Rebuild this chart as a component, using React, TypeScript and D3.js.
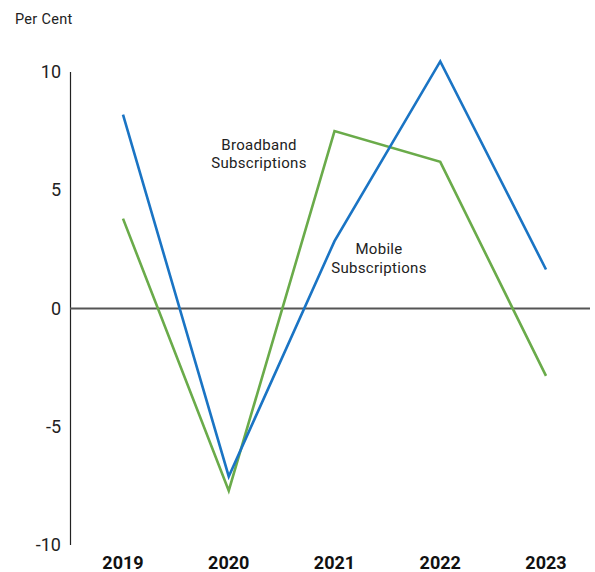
import React from "react";
import * as d3 from "d3";

const years = ["2019", "2020", "2021", "2022", "2023"];
const mobile = [8.2, -7.1, 2.85, 10.45, 1.65];
const broadband = [3.8, -7.7, 7.5, 6.2, -2.85];
const yTicks = [-10, -5, 0, 5, 10];

const W = 595;
const H = 572;

export default function App() {
  const x = d3.scalePoint<string>().domain(years).range([123, 546]);
  const y = d3.scaleLinear().domain([-10, 10]).range([545, 72]);
  const line = d3
    .line<number>()
    .x((_, i) => x(years[i]) as number)
    .y((d) => y(d));
  const font = "Roboto, 'DejaVu Sans', sans-serif";
  return (
    <svg
      width={W}
      height={H}
      style={{ position: "absolute", left: 0, top: 0, background: "#fff" }}
      fontFamily={font}
    >
      <text x={15} y={24} fontSize={14.5} letterSpacing={0.3} fill="#222">Per Cent</text>
      <line x1={70.5} x2={70.5} y1={y(10)} y2={y(-10)} stroke="#222" strokeWidth={1.2} />
      <line x1={70} x2={590} y1={y(0)} y2={y(0)} stroke="#555" strokeWidth={2} />
      {yTicks.map((t) => (
        <text key={t} x={61} y={y(t) + 6} fontSize={18} textAnchor="end" fill="#222">
          {t}
        </text>
      ))}
      {years.map((yr) => (
        <text
          key={yr}
          x={x(yr) as number}
          y={569}
          fontSize={18}
          fontWeight="bold"
          textAnchor="middle"
          fill="#111"
        >
          {yr}
        </text>
      ))}
      <path d={line(broadband) || ""} fill="none" stroke="#6aab4a" strokeWidth={2.6} />
      <path d={line(mobile) || ""} fill="none" stroke="#1a74c4" strokeWidth={2.6} />
      <g fontSize={15} letterSpacing={0.3} textAnchor="middle" fill="#222">
        <text x={259} y={150}>Broadband</text>
        <text x={259} y={168}>Subscriptions</text>
        <text x={379} y={254}>Mobile</text>
        <text x={379} y={273}>Subscriptions</text>
      </g>
    </svg>
  );
}
